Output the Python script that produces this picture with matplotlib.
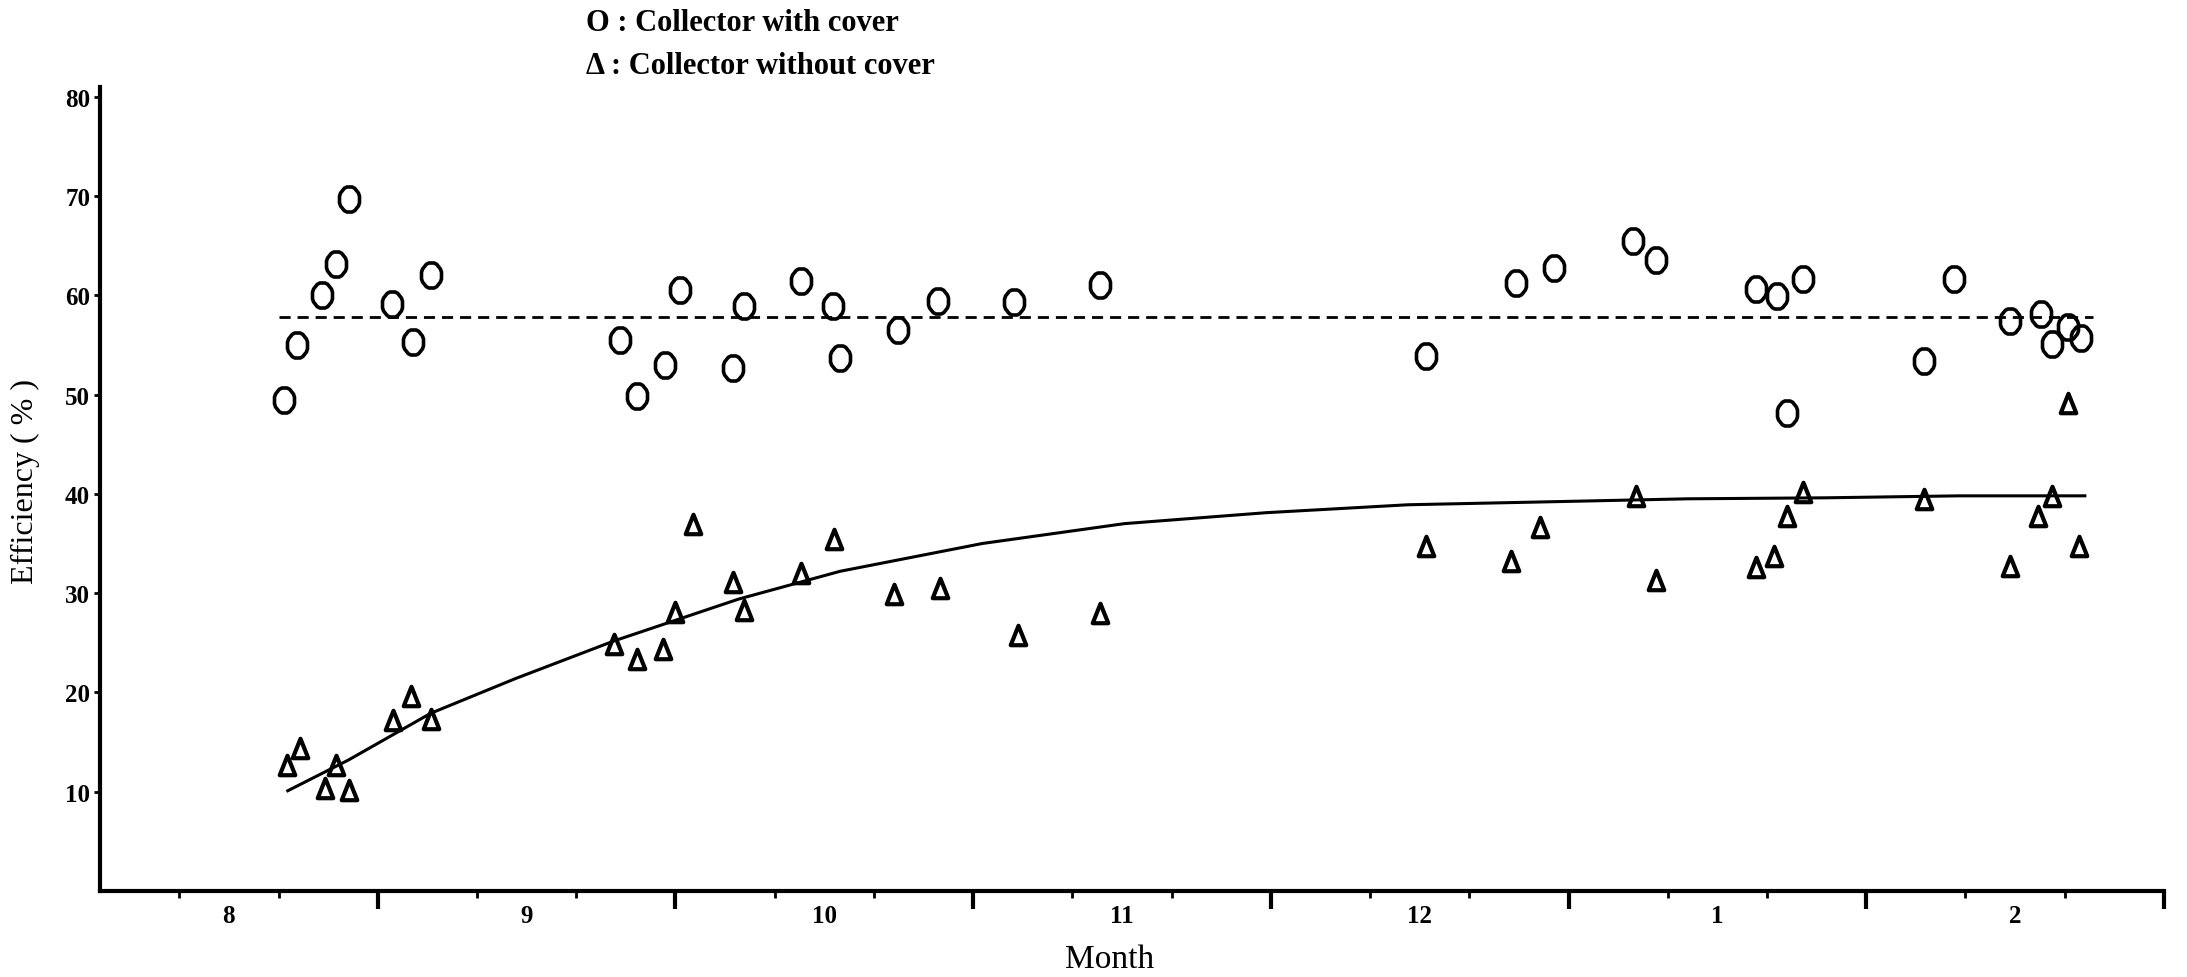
import matplotlib

matplotlib.use("Agg")
import matplotlib.pyplot as plt
from matplotlib.path import Path
from matplotlib.transforms import Affine2D, blended_transform_factory

# x is measured in months: 0-1 = August, 1-2 = September, ... 6-7 = February.
month_labels = ["8", "9", "10", "11", "12", "1", "2"]
month_centers = [0.5, 1.5, 2.5, 3.5, 4.5, 5.5, 6.5]
month_bounds = [1, 2, 3, 4, 5, 6, 7]
dekad_ticks = [0.333, 0.667, 1.333, 1.667, 2.333, 2.667, 3.333, 3.667,
               4.333, 4.667, 5.333, 5.667, 6.333, 6.667]

# Collector with cover (circles)
cover_x = [0.686, 0.729, 0.813, 0.859, 0.902, 1.047, 1.117, 1.178, 1.814,
           1.870, 1.964, 2.016, 2.193, 2.231, 2.423, 2.529, 2.553, 2.749,
           2.883, 3.137, 3.427, 4.522, 4.822, 4.951, 5.215, 5.294, 5.631,
           5.700, 5.732, 5.788, 6.194, 6.294, 6.483, 6.587, 6.623, 6.677,
           6.722]
cover_eff = [49.5, 55.0, 60.0, 63.1, 69.7, 59.1, 55.3, 62.0, 55.5, 49.9,
             53.0, 60.5, 52.7, 58.9, 61.4, 58.9, 53.7, 56.5, 59.4, 59.3,
             61.0, 53.9, 61.2, 62.7, 65.5, 63.5, 60.6, 59.9, 48.1, 61.6,
             53.4, 61.6, 57.4, 58.1, 55.1, 56.8, 55.7]

# Collector without cover (triangles)
nocover_x = [0.696, 0.738, 0.822, 0.859, 0.902, 1.051, 1.112, 1.178, 1.795,
             1.870, 1.959, 1.997, 2.059, 2.193, 2.231, 2.423, 2.533, 2.735,
             2.888, 3.150, 3.427, 4.522, 4.808, 4.903, 5.225, 5.294, 5.631,
             5.691, 5.732, 5.788, 6.194, 6.483, 6.578, 6.623, 6.677, 6.713]
nocover_eff = [12.7, 14.4, 10.4, 12.7, 10.2, 17.2, 19.6, 17.3, 24.9, 23.4,
               24.4, 28.1, 37.0, 31.1, 28.3, 32.0, 35.5, 29.9, 30.5, 25.8,
               28.0, 34.7, 33.2, 36.7, 39.8, 31.3, 32.6, 33.7, 37.8, 40.2,
               39.5, 32.7, 37.8, 39.8, 49.1, 34.7]

# Mean line for the covered collector
cover_mean_x = [0.668, 6.76]
cover_mean = [57.8, 57.8]

# Hand-fitted trend for the uncovered collector
trend_x = [0.698, 0.902, 1.178, 1.463, 1.795, 2.212, 2.553, 3.031, 3.508,
           3.983, 4.460, 4.935, 5.400, 5.861, 6.314, 6.734]
trend_eff = [10.1, 13.2, 17.9, 21.4, 25.2, 29.4, 32.2, 35.0, 37.0, 38.1,
             38.9, 39.2, 39.5, 39.6, 39.8, 39.8]

FONT = "Liberation Serif"

ellipse = Path(Affine2D().scale(0.8, 1.0).transform_path(Path.unit_circle()).vertices)
tall_triangle = Path([(0, 1), (-0.8, -1), (0.8, -1), (0, 1)], closed=True)

fig = plt.figure(figsize=(21.87, 9.78), dpi=100)
ax = fig.add_axes([0.0457, 0.0879, 0.9438, 0.8224])

ax.plot(cover_mean_x, cover_mean, color="black", lw=2.0, dashes=(4, 2.5))
ax.plot(trend_x, trend_eff, color="black", lw=2.2)
ax.plot(cover_x, cover_eff, linestyle="none", marker=ellipse, markersize=18,
        markerfacecolor="none", markeredgecolor="black", markeredgewidth=2.6)
ax.plot(nocover_x, nocover_eff, linestyle="none", marker=tall_triangle,
        markersize=14, markerfacecolor="none", markeredgecolor="black",
        markeredgewidth=3.0)

ax.set_xlim(0.067, 7.0)
ax.set_ylim(0, 81)

for side in ("top", "right"):
    ax.spines[side].set_visible(False)
for side in ("left", "bottom"):
    ax.spines[side].set_linewidth(3)

ax.set_yticks([10, 20, 30, 40, 50, 60, 70, 80])
ax.tick_params(axis="y", direction="out", length=4, width=2, pad=3,
               labelsize=18)
for lab in ax.get_yticklabels():
    lab.set_fontfamily(FONT)
    lab.set_fontweight("bold")

ax.set_xticks(month_bounds)
ax.set_xticklabels([])
ax.set_xticks(dekad_ticks, minor=True)
ax.tick_params(axis="x", which="major", direction="out", length=13, width=3)
ax.tick_params(axis="x", which="minor", direction="out", length=5, width=2)

trans = blended_transform_factory(ax.transData, ax.transAxes)
for xc, lab in zip(month_centers, month_labels):
    ax.text(xc, -0.03, lab, transform=trans, ha="center", va="center",
            fontsize=18, fontweight="bold", family=FONT)

fig.text(0.5075, 0.0184, "Month", ha="center", va="center", fontsize=24,
         family=FONT)
fig.text(0.0118, 0.508, "Efficiency ( % )", rotation=90, ha="center",
         va="center", fontsize=23, family=FONT)

fig.text(0.268, 0.9758, "O : Collector with cover", ha="left", va="center",
         fontsize=22, fontweight="bold", family=FONT)
fig.text(0.268, 0.9315, "\u0394 : Collector without cover", ha="left",
         va="center", fontsize=22, fontweight="bold", family=FONT)

fig.savefig("out.png", dpi=100, facecolor="white")
